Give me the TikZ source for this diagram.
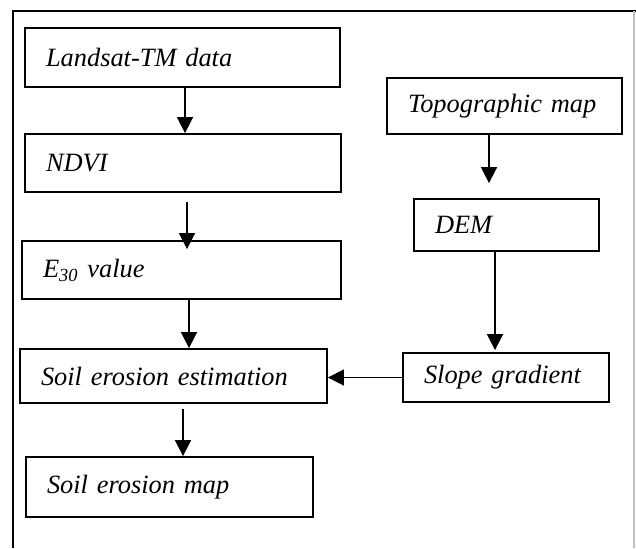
\documentclass[tikz,border=0pt]{standalone}
\usepackage{fontspec}
\setmainfont{Liberation Serif}
\usepackage{tikz}
\tikzstyle{bx}=[shape=rectangle,
                draw=black,
                line width=0.9pt,
                inner xsep=10.5pt,
                align=left,
                font=\fontsize{13.2}{15}\selectfont\itshape]
\tikzstyle{arr}=[-{Triangle[length=8pt, width=8pt]},
                line width=0.8pt]
\usetikzlibrary{positioning, arrows.meta}

\begin{document}
\begin{tikzpicture}[x=0.5pt, y=-0.5pt]

\useasboundingbox (0,0) rectangle (636,548);

% frame
\draw[line width=0.9pt] (13,548) -- (13,11) -- (636,11);
\draw[line width=0.8pt, black!25] (634,11) -- (634,548);

% left column
\node[bx, minimum width=157.5pt, minimum height=29.5pt, text width=136.5pt] (landsat) at (182.5,57.5) {Landsat-TM data};
\node[bx, minimum width=158pt, minimum height=29pt, text width=137pt] (ndvi) at (183,163) {NDVI};
\node[bx, minimum width=159.5pt, minimum height=29pt, text width=138.5pt] (e30) at (181.5,270) {E\textsubscript{30} value};
\node[bx, minimum width=153.5pt, minimum height=27pt, text width=132.5pt] (estim) at (173.5,376) {Soil erosion estimation};
\node[bx, minimum width=143.5pt, minimum height=30pt, text width=122.5pt] (emap) at (169.5,487) {Soil erosion map};

% right column
\node[bx, minimum width=117.5pt, minimum height=28pt, text width=96.5pt] (topo) at (504.5,106) {Topographic map};
\node[bx, minimum width=92.5pt, minimum height=26pt, text width=71.5pt] (dem) at (506.5,225) {DEM};
\node[bx, minimum width=103pt, minimum height=24.5pt, text width=82pt] (slope) at (506,377.5) {Slope gradient};

% arrows
\path[arr] ([xshift=1.25pt]landsat.south) edge ([xshift=1pt]ndvi.north);
\path[arr] ([xshift=2pt, yshift=-4.5pt]ndvi.south) edge ([xshift=2.75pt, yshift=-4.5pt]e30.north);
\path[arr] ([xshift=3.75pt]e30.south) edge ([xshift=7.75pt]estim.north);
\path[arr] ([xshift=4.75pt, yshift=-2.5pt]estim.south) edge ([xshift=6.75pt]emap.north);

\path[arr] ([xshift=-7.75pt]topo.south) edge ([xshift=-8.75pt, yshift=7.5pt]dem.north);
\path[arr] ([xshift=-5.75pt]dem.south) edge ([xshift=-5.5pt, yshift=1pt]slope.north);
\path[arr] (slope.west) edge (slope.west -| estim.east);

\end{tikzpicture}
\end{document}
